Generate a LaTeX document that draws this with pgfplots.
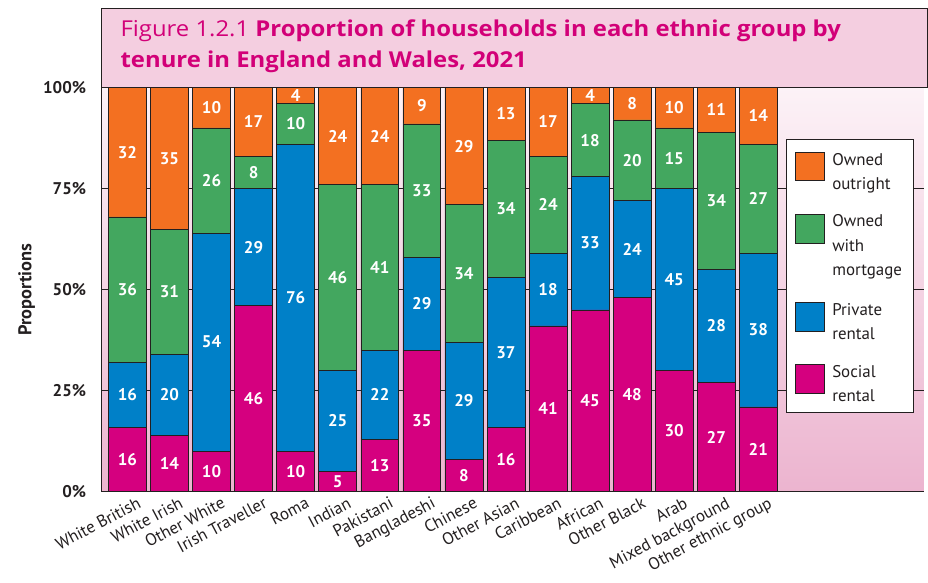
\documentclass[border=0pt]{standalone}
\usepackage{pgfplots}
\usepackage{pgfplotstable}
\pgfplotsset{compat=1.18}
\usepackage{fontspec}
\setmainfont{PT Sans}
\newfontfamily\titlefont[FakeStretch=1.09]{Open Sans}
\definecolor{cOwn}{RGB}{243,112,33}
\definecolor{cMort}{RGB}{67,167,95}
\definecolor{cPriv}{RGB}{0,128,200}
\definecolor{cSoc}{RGB}{213,0,127}
\definecolor{cTitle}{RGB}{210,0,120}
\definecolor{cTitleBg}{RGB}{244,206,224}
\definecolor{cDark}{RGB}{35,31,32}
\definecolor{bgTop}{RGB}{252,242,247}
\definecolor{bgBot}{RGB}{236,180,207}

\pgfplotstableread{
x soc priv mort own socl privl mortl ownl
0 16 16 36 32 16 16 36 32
1 14 20 31 35 14 20 31 35
2 10 54 26 10 10 54 26 10
3 46 29 8 17 46 29 8 17
4 10 76 10 4 10 76 10 4
5 5 25 46 24 5 25 46 24
6 13 22 41 24 13 22 41 24
7 35 23 33 9 35 29 33 9
8 8 29 34 29 8 29 34 29
9 16 37 34 13 16 37 34 13
10 41 18 24 17 41 18 24 17
11 45 33 18 4 45 33 18 4
12 48 24 20 8 48 24 20 8
13 30 45 15 10 30 45 15 10
14 27 28 34 11 27 28 34 11
15 21 38 27 14 21 38 27 14
}\data

\pgfplotsset{
  common/.style={
    at={(102pt,91pt)}, anchor=south west, scale only axis,
    width=826pt, height=406pt,
    xmin=-0.615, xmax=18.93, ymin=0, ymax=100,
  },
  lbl/.style={draw=none, mark=none, nodes near coords, point meta=explicit symbolic,
    every node near coord/.style={font=\bfseries\fontsize{17}{17}\selectfont, text=white, anchor=center, inner sep=0pt}},
}

\begin{document}
\begin{tikzpicture}[x=1pt,y=1pt]
\path (0,0) rectangle (928,585);
\filldraw[fill=cTitleBg, draw=cDark, line width=0.8pt] (102,497) rectangle (932,577);
\node[anchor=base west, text=cTitle, font=\titlefont\fontsize{22}{22}\selectfont, inner sep=0pt] at (121,548)
  {Figure 1.2.1 \textbf{Proportion of households in each ethnic group by}};
\node[anchor=base west, text=cTitle, font=\titlefont\fontsize{22}{22}\selectfont, inner sep=0pt] at (121,517)
  {\textbf{tenure in England and Wales, 2021}};
\begin{axis}[common,
  set layers, axis on top=false,
  axis x line*=bottom, axis y line*=left,
  axis line style={cDark, line width=1.6pt},
  axis background/.style={shade, top color=bgTop, bottom color=bgBot},
  ymajorgrids, grid style={cDark, line width=0.6pt},
  major tick length=0pt,
  ytick={0,25,50,75,100},
  yticklabels={0\%,25\%,50\%,75\%,100\%},
  yticklabel style={font=\bfseries\fontsize{17}{17}\selectfont, text=cDark, xshift=-12pt},
  ylabel={Proportions},
  ylabel style={at={(axis description cs:-0.091,0.5)}, anchor=center, font=\bfseries\fontsize{18.5}{18.5}\selectfont, text=cDark},
  xtick={0,...,15},
  xticklabels={White British,White Irish,Other White,Irish Traveller,Roma,Indian,Pakistani,Bangladeshi,Chinese,Other Asian,Caribbean,African,Other Black,Arab,Mixed background,Other ethnic group},
  xticklabel style={rotate=28, anchor=north east, font=\fontsize{17}{17}\selectfont, text=cDark, inner sep=0pt, xshift=6pt, yshift=-8pt},
  ybar stacked, bar width=0.9, bar shift=0pt,
]
\addplot[fill=cSoc, draw=cDark, line width=0.6pt] table[x=x, y=soc] {\data};
\addplot[fill=cPriv, draw=cDark, line width=0.6pt] table[x=x, y=priv] {\data};
\addplot[fill=cMort, draw=cDark, line width=0.6pt] table[x=x, y=mort] {\data};
\addplot[fill=cOwn, draw=cDark, line width=0.6pt] table[x=x, y=own] {\data};
\end{axis}
\begin{axis}[common, hide axis, clip=false]
\addplot[lbl] table[x=x, y expr=\thisrow{soc}/2, meta=socl] {\data};
\addplot[lbl] table[x=x, y expr=\thisrow{soc}+\thisrow{priv}/2, meta=privl] {\data};
\addplot[lbl] table[x=x, y expr=\thisrow{soc}+\thisrow{priv}+\thisrow{mort}/2, meta=mortl] {\data};
\addplot[lbl] table[x=x, y expr=\thisrow{soc}+\thisrow{priv}+\thisrow{mort}+\thisrow{own}/2, meta=ownl] {\data};
\end{axis}
% legend
\filldraw[fill=white, draw=cDark, line width=0.8pt] (790,445) rectangle (918,171);
\begin{scope}[every node/.style={anchor=base west, inner sep=0pt, text=cDark, font=\fontsize{17}{17}\selectfont}]
\filldraw[fill=cOwn, draw=cDark, line width=0.6pt] (799,432) rectangle (828,404);
\node at (836,419) {Owned};
\node at (836,395) {outright};
\filldraw[fill=cMort, draw=cDark, line width=0.6pt] (799,370) rectangle (828,341);
\node at (836,357) {Owned};
\node at (836,332.5) {with};
\node at (836,308) {mortgage};
\filldraw[fill=cPriv, draw=cDark, line width=0.6pt] (799,281) rectangle (828,252);
\node at (836,268) {Private};
\node at (836,243.5) {rental};
\filldraw[fill=cSoc, draw=cDark, line width=0.6pt] (799,219) rectangle (828,190);
\node at (836,206) {Social};
\node at (836,181.5) {rental};
\end{scope}
\end{tikzpicture}
\end{document}
